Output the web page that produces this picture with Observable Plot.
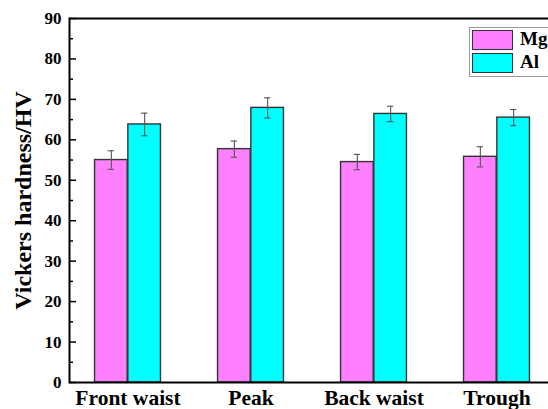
<!DOCTYPE html>
<html>
<head>
<meta charset="utf-8">
<script src="https://cdn.jsdelivr.net/npm/d3@7"></script>
<script src="https://cdn.jsdelivr.net/npm/@observablehq/plot@0.6"></script>
<style>
  html, body { margin: 0; padding: 0; background: #fff; }
  #wrap { position: relative; width: 548px; height: 409px; overflow: hidden; font-family: "Liberation Serif", "Times New Roman", serif; }
  #wrap svg { overflow: hidden; }
  .legend { position: absolute; left: 469px; top: 27px; width: 100px; height: 48px; border: 1px solid #999; background: #fff; }
  .legend .row { position: absolute; left: 2px; height: 20px; }
  .legend .sw { position: absolute; left: 0; top: 0; width: 41px; height: 20px; border: 1.5px solid #333; box-sizing: border-box; }
  .legend .lab { position: absolute; left: 48px; top: -2px; font-weight: bold; font-size: 19px; line-height: 22px; color: #000; }
</style>
</head>
<body>
<div id="wrap"></div>
<script>
// Vickers hardness of the Mg and Al sides at four positions of the joint
const categories = ["Front waist", "Peak", "Back waist", "Trough"];
const seriesNames = ["Mg", "Al"];
const mgValues = [55.0, 57.7, 54.5, 55.8];
const mgErrors = [2.3, 2.0, 1.9, 2.5];
const alValues = [63.8, 67.9, 66.4, 65.5];
const alErrors = [2.8, 2.5, 1.9, 2.0];
const yTicks = [0, 10, 20, 30, 40, 50, 60, 70, 80, 90];
const yMinorTicks = [5, 15, 25, 35, 45, 55, 65, 75, 85];

const colors = {Mg: "#ff80ff", Al: "#00ffff"};

// layout
const width = 548, height = 409;
const marginLeft = 69, marginTop = 18, marginBottom = 27, marginRight = -40;
const xRange = [64.85, 559.65];
const step = (xRange[1] - xRange[0]) / categories.length;
const barW = 33.3;
const capW = 7;
const half = step / 2;
const frameW = width - marginRight - marginLeft;

const rows = (vals, errs) => categories.map((c, i) => ({category: c, value: vals[i], err: errs[i]}));
const mg = rows(mgValues, mgErrors);
const al = rows(alValues, alErrors);

// Mg sits left of the group centre, Al right of it
const barInsets = [
  {insetLeft: half - barW, insetRight: half},
  {insetLeft: half, insetRight: half - barW}
];
const centerOffset = [-barW / 2, barW / 2];
const capInsets = centerOffset.map(o => ({insetLeft: half + o - capW / 2, insetRight: half - o - capW / 2}));

const errMarks = (data, k) => [
  Plot.ruleX(data, {x: "category", y1: d => d.value - d.err, y2: d => d.value + d.err, dx: centerOffset[k], stroke: "#555", strokeWidth: 1.1}),
  Plot.tickY(data, {x: "category", y: d => d.value + d.err, ...capInsets[k], stroke: "#555", strokeWidth: 1.1}),
  Plot.tickY(data, {x: "category", y: d => d.value - d.err, ...capInsets[k], stroke: "#555", strokeWidth: 1.1})
];

const chart = Plot.plot({
  width, height, marginLeft, marginTop, marginBottom, marginRight,
  style: {fontFamily: "'Liberation Serif', 'Times New Roman', serif", background: "#fff", color: "#000"},
  x: {domain: categories, range: xRange, padding: 0, label: null},
  y: {domain: [0, 90], label: null},
  marks: [
    Plot.barY(mg, {x: "category", y: "value", fill: colors.Mg, stroke: "#333", strokeWidth: 1.4, ...barInsets[0]}),
    Plot.barY(al, {x: "category", y: "value", fill: colors.Al, stroke: "#333", strokeWidth: 1.4, ...barInsets[1]}),
    ...errMarks(mg, 0),
    ...errMarks(al, 1),
    // inward ticks on the left axis
    Plot.tickY(yTicks, {y: d => d, insetRight: frameW - 7, stroke: "#000", strokeWidth: 1.5}),
    Plot.tickY(yMinorTicks, {y: d => d, insetRight: frameW - 4, stroke: "#000", strokeWidth: 1.5}),
    Plot.axisY({ticks: yTicks, tickSize: 0, tickPadding: 8, fontSize: 17, fontWeight: "bold", label: "Vickers hardness/HV", labelAnchor: "center", labelArrow: "none", labelOffset: 56}),
    Plot.axisX({tickSize: 0, tickPadding: 7, fontSize: 21.5, fontWeight: "bold"}),
    Plot.frame({stroke: "#000", strokeWidth: 2})
  ]
});

const wrap = document.getElementById("wrap");
wrap.appendChild(chart);

// y-axis title styling
d3.select(chart).selectAll("[aria-label='y-axis label'] text").attr("font-size", 24).attr("font-weight", "bold");

// legend
const legend = document.createElement("div");
legend.className = "legend";
seriesNames.forEach((s, i) => {
  const row = document.createElement("div");
  row.className = "row";
  row.style.top = (2 + i * 22.5) + "px";
  row.innerHTML = `<div class="sw" style="background:${colors[s]}"></div><div class="lab">${s}</div>`;
  legend.appendChild(row);
});
wrap.appendChild(legend);
</script>
</body>
</html>
